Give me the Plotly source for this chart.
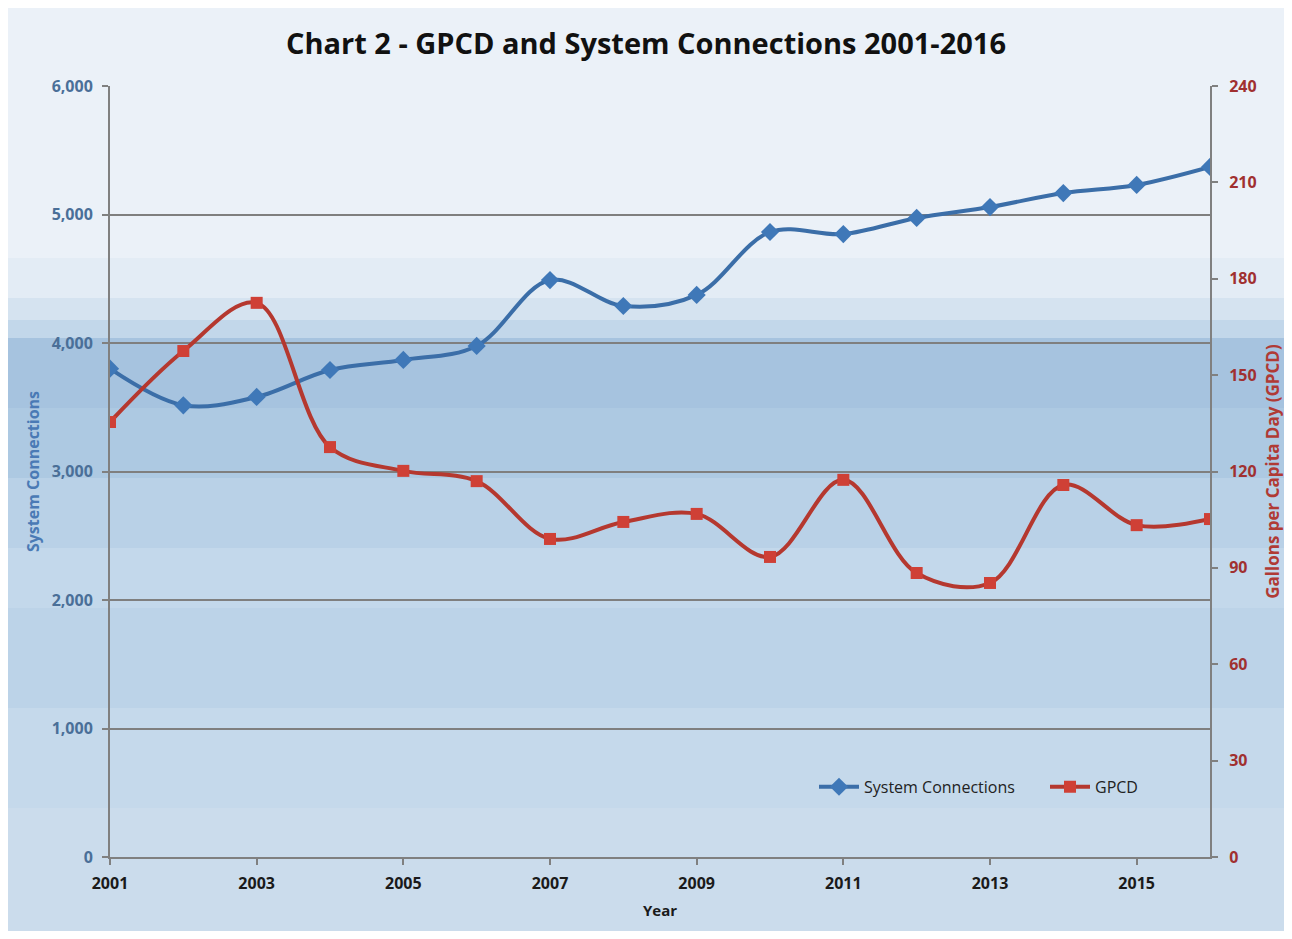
import plotly.graph_objects as go

years = list(range(2001, 2017))
connections = [3800, 3515, 3580, 3790, 3868, 3977, 4490, 4288, 4374, 4864, 4848, 4973, 5058, 5167, 5230, 5370]
gpcd = [135.4, 157.5, 172.5, 127.6, 120.2, 117.0, 99.0, 104.3, 106.8, 93.4, 117.4, 88.4, 85.3, 115.8, 103.3, 105.2]

left_ticks = [0, 1000, 2000, 3000, 4000, 5000, 6000]
right_ticks = [0, 30, 60, 90, 120, 150, 180, 210, 240]

BLUE = "#3b6ea8"
RED = "#b5382f"
FONT = "Open Sans"

W, H = 1276, 923
ML, MT, MR, MB = 102, 78, 74, 74
PH = H - MT - MB

fig = go.Figure()
fig.add_trace(go.Scatter(
    x=years, y=connections, name="System Connections", mode="lines+markers",
    line=dict(color=BLUE, width=4, shape="spline", smoothing=1.0),
    marker=dict(symbol="diamond", size=14, color="#3f78b8"),
    yaxis="y",
))
fig.add_trace(go.Scatter(
    x=years, y=gpcd, name="GPCD", mode="lines+markers",
    line=dict(color=RED, width=4, shape="spline", smoothing=1.0),
    marker=dict(symbol="square", size=12, color="#cf4036"),
    yaxis="y2",
))

# background gradient bands given in figure pixel rows (top, bottom, colour)
bands_px = [
    (0, 250, "#ebf1f8"),
    (250, 290, "#e3ecf5"),
    (290, 312, "#d5e3f0"),
    (312, 330, "#c2d7ea"),
    (330, 400, "#a6c3df"),
    (400, 470, "#adc9e2"),
    (470, 540, "#b9d1e7"),
    (540, 600, "#c3d8eb"),
    (600, 700, "#bcd3e8"),
    (700, 800, "#c5d9eb"),
    (800, 940, "#cbdcec"),
]
PW = W - ML - MR
shapes = []
for top, bot, c in bands_px:
    y1 = (H - MB - top) / PH
    y0 = (H - MB - bot) / PH
    shapes.append(dict(type="rect", xref="paper", yref="paper",
                       x0=-ML / PW, x1=1 + MR / PW,
                       y0=y0, y1=y1, fillcolor=c, line=dict(width=0), layer="below"))

fig.update_layout(
    width=W, height=H,
    margin=dict(l=ML, r=MR, t=MT, b=MB, autoexpand=False),
    paper_bgcolor="#dde8f2",
    plot_bgcolor="rgba(0,0,0,0)",
    shapes=shapes,
    title=dict(text="<b>Chart 2 - GPCD and System Connections 2001-2016</b>",
               x=0.5, xanchor="center", y=1 - 36 / H, yanchor="middle",
               font=dict(family=FONT, size=29, color="#111111")),
    font=dict(family=FONT),
    xaxis=dict(
        range=[2001, 2016], tick0=2001, dtick=2, showgrid=False, automargin=False,
        showline=True, linecolor="#808080", linewidth=2,
        ticks="outside", ticklen=6, tickcolor="#808080", tickwidth=1.5,
        ticklabelstandoff=5,
        tickfont=dict(family=FONT, size=16, color="#1a1a1a", weight="bold"),
        title=dict(text="<b>Year</b>", font=dict(family=FONT, size=15, color="#1a1a1a"), standoff=12),
        zeroline=False,
    ),
    yaxis=dict(
        range=[0, 6000], tickvals=left_ticks, tickformat=",", automargin=False,
        showgrid=True, gridcolor="#7f7f7f", gridwidth=2,
        showline=True, linecolor="#808080", linewidth=2,
        ticks="outside", ticklen=6, tickcolor="#808080", tickwidth=1.5,
        ticklabelstandoff=6,
        tickfont=dict(family=FONT, size=16, color="#4a6f98", weight="bold"),
        title=dict(text="<b>System Connections</b>", font=dict(family=FONT, size=16, color="#4a7ab5"), standoff=8),
        zeroline=False,
    ),
    yaxis2=dict(
        range=[0, 240], tickvals=right_ticks, overlaying="y", side="right", automargin=False,
        showgrid=False, showline=True, linecolor="#808080", linewidth=2,
        ticks="outside", ticklen=6, tickcolor="#808080", tickwidth=1.5,
        ticklabelstandoff=8,
        tickfont=dict(family=FONT, size=16, color="#a03030", weight="bold"),
        title=dict(text="<b>Gallons per Capita Day (GPCD)</b>", font=dict(family=FONT, size=17, color="#b03a35"), standoff=14),
        zeroline=False,
    ),
    legend=dict(orientation="h", x=0.64, y=0.091, xanchor="left", yanchor="middle",
                bgcolor="rgba(0,0,0,0)", font=dict(family=FONT, size=16, color="#222222"),
                itemwidth=40, entrywidth=176),
    showlegend=True,
)

fig.write_html("out.html")
